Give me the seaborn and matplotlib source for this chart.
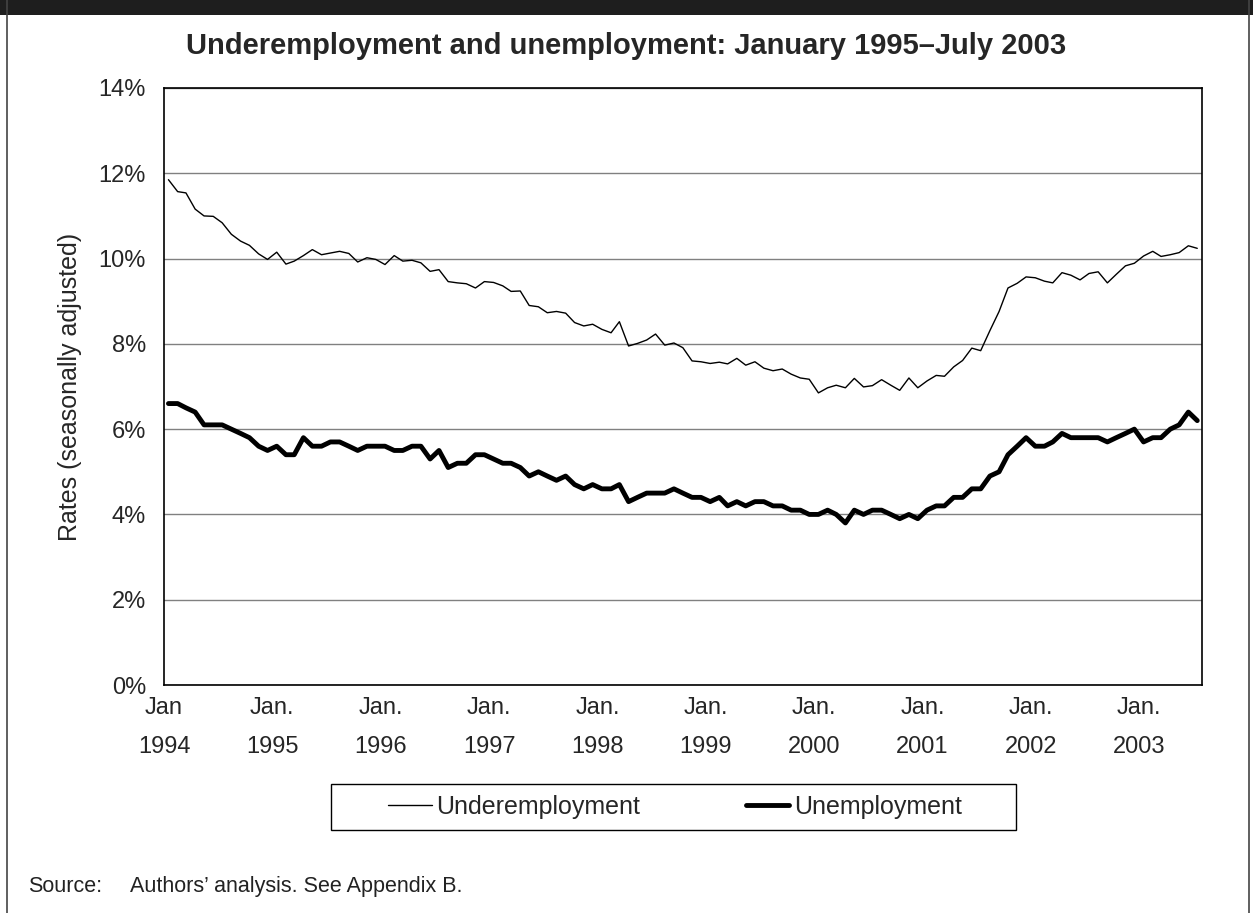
import numpy as np
import pandas as pd
import matplotlib
matplotlib.use("Agg")
import matplotlib.pyplot as plt
from matplotlib.patches import Rectangle
from matplotlib.lines import Line2D
import seaborn as sns

# monthly rates, Jan 1994 - Jul 2003 (percent)
underemployment = [
    11.85, 11.57, 11.54, 11.16, 11.00, 10.99, 10.84, 10.57, 10.41, 10.31, 10.11, 9.98,   # 1994
    10.15, 9.87, 9.94, 10.07, 10.21, 10.09, 10.13, 10.17, 10.12, 9.92, 10.02, 9.98,      # 1995
    9.86, 10.07, 9.94, 9.96, 9.90, 9.70, 9.74, 9.46, 9.43, 9.41, 9.31, 9.46,             # 1996
    9.44, 9.36, 9.23, 9.24, 8.90, 8.87, 8.73, 8.76, 8.72, 8.50, 8.42, 8.46,              # 1997
    8.34, 8.26, 8.52, 7.95, 8.01, 8.09, 8.23, 7.97, 8.02, 7.91, 7.60, 7.58,              # 1998
    7.54, 7.57, 7.53, 7.66, 7.50, 7.58, 7.43, 7.37, 7.41, 7.29, 7.20, 7.17,              # 1999
    6.85, 6.97, 7.03, 6.97, 7.19, 6.99, 7.02, 7.16, 7.03, 6.91, 7.20, 6.97,              # 2000
    7.13, 7.26, 7.24, 7.46, 7.61, 7.90, 7.84, 8.31, 8.76, 9.31, 9.42, 9.57,              # 2001
    9.55, 9.47, 9.43, 9.67, 9.61, 9.50, 9.65, 9.69, 9.43, 9.63, 9.83, 9.89,              # 2002
    10.06, 10.17, 10.05, 10.09, 10.14, 10.30, 10.24,                                     # 2003
]
unemployment = [
    6.6, 6.6, 6.5, 6.4, 6.1, 6.1, 6.1, 6.0, 5.9, 5.8, 5.6, 5.5,
    5.6, 5.4, 5.4, 5.8, 5.6, 5.6, 5.7, 5.7, 5.6, 5.5, 5.6, 5.6,
    5.6, 5.5, 5.5, 5.6, 5.6, 5.3, 5.5, 5.1, 5.2, 5.2, 5.4, 5.4,
    5.3, 5.2, 5.2, 5.1, 4.9, 5.0, 4.9, 4.8, 4.9, 4.7, 4.6, 4.7,
    4.6, 4.6, 4.7, 4.3, 4.4, 4.5, 4.5, 4.5, 4.6, 4.5, 4.4, 4.4,
    4.3, 4.4, 4.2, 4.3, 4.2, 4.3, 4.3, 4.2, 4.2, 4.1, 4.1, 4.0,
    4.0, 4.1, 4.0, 3.8, 4.1, 4.0, 4.1, 4.1, 4.0, 3.9, 4.0, 3.9,
    4.1, 4.2, 4.2, 4.4, 4.4, 4.6, 4.6, 4.9, 5.0, 5.4, 5.6, 5.8,
    5.6, 5.6, 5.7, 5.9, 5.8, 5.8, 5.8, 5.8, 5.7, 5.8, 5.9, 6.0,
    5.7, 5.8, 5.8, 6.0, 6.1, 6.4, 6.2,
]
years = list(range(1994, 2004))
year_labels = ["Jan\n1994"] + ["Jan.\n%d" % y for y in years[1:]]

# points sit in the middle of each month
months = pd.date_range("1994-01-01", periods=len(unemployment), freq="MS") + pd.Timedelta(days=15)
df = pd.DataFrame({"month": months, "Underemployment": underemployment, "Unemployment": unemployment})

sns.set_style("white")
plt.rcParams["font.family"] = ["Liberation Sans", "DejaVu Sans"]

W, H = 1253, 913
fig = plt.figure(figsize=(W / 100, H / 100), dpi=100)
ax = fig.add_axes([164 / W, 1 - 685 / H, (1202 - 164) / W, (685 - 88) / H])

sns.lineplot(data=df, x="month", y="Underemployment", ax=ax, color="black", linewidth=1.0)
sns.lineplot(data=df, x="month", y="Unemployment", ax=ax, color="black", linewidth=3.5)

ax.set_xlim(pd.Timestamp("1994-01-01"), pd.Timestamp("2003-08-01"))
ax.set_ylim(0, 14)
ax.set_yticks(np.arange(0, 15, 2))
ax.set_yticklabels(["%d%%" % v for v in range(0, 15, 2)])
ax.set_xticks([pd.Timestamp("%d-01-01" % y) for y in years])
ax.set_xticklabels(year_labels, linespacing=1.95)
ax.set_xlabel("")
ax.set_ylabel("")

ax.yaxis.grid(True, color="#808080", linewidth=1.0)
ax.set_axisbelow(True)
for s in ax.spines.values():
    s.set_color("black")
    s.set_linewidth(1.2)
ax.tick_params(axis="y", direction="out", length=8, width=1.0, color="black", labelsize=17, pad=5)
ax.tick_params(axis="x", direction="out", length=7, width=1.0, color="black", labelsize=17, pad=2)

fig.text(626 / W, 1 - 46 / H, "Underemployment and unemployment: January 1995\u2013July 2003",
         ha="center", va="center", fontsize=21, fontweight="bold")
fig.text(70 / W, 1 - 387 / H, "Rates (seasonally adjusted)", rotation=90,
         ha="center", va="center", fontsize=18)

# legend with a separate square box
handles = [Line2D([], [], color="black", linewidth=1.0),
           Line2D([], [], color="black", linewidth=3.5)]
fig.legend(handles, ["Underemployment", "Unemployment"], loc="center",
           bbox_to_anchor=(675 / W, 1 - 807 / H), ncol=2, frameon=False, fontsize=18,
           handlelength=1.75, handletextpad=0.2, columnspacing=4.2)
fig.patches.append(Rectangle((331 / W, 1 - 830 / H), (1016 - 331) / W, 46 / H,
                             transform=fig.transFigure, fill=False, edgecolor="black", linewidth=1.0))

fig.text(28 / W, 1 - 886 / H, "Source:", ha="left", va="center", fontsize=15.5, color="#222222")
fig.text(130 / W, 1 - 886 / H, "Authors\u2019 analysis. See Appendix B.", ha="left", va="center",
         fontsize=15.5, color="#222222")

# page frame: dark band on top, thin side rules
fig.patches.append(Rectangle((0, 1 - 15 / H), 1, 15 / H, transform=fig.transFigure,
                             facecolor="#1e1e1e", edgecolor="none"))
fig.lines.append(Line2D([7 / W, 7 / W], [0, 1], transform=fig.transFigure, color="#444444", linewidth=1.2))
fig.lines.append(Line2D([1249 / W, 1249 / W], [0, 1], transform=fig.transFigure, color="#444444", linewidth=1.2))

fig.savefig("out.png", dpi=100)
